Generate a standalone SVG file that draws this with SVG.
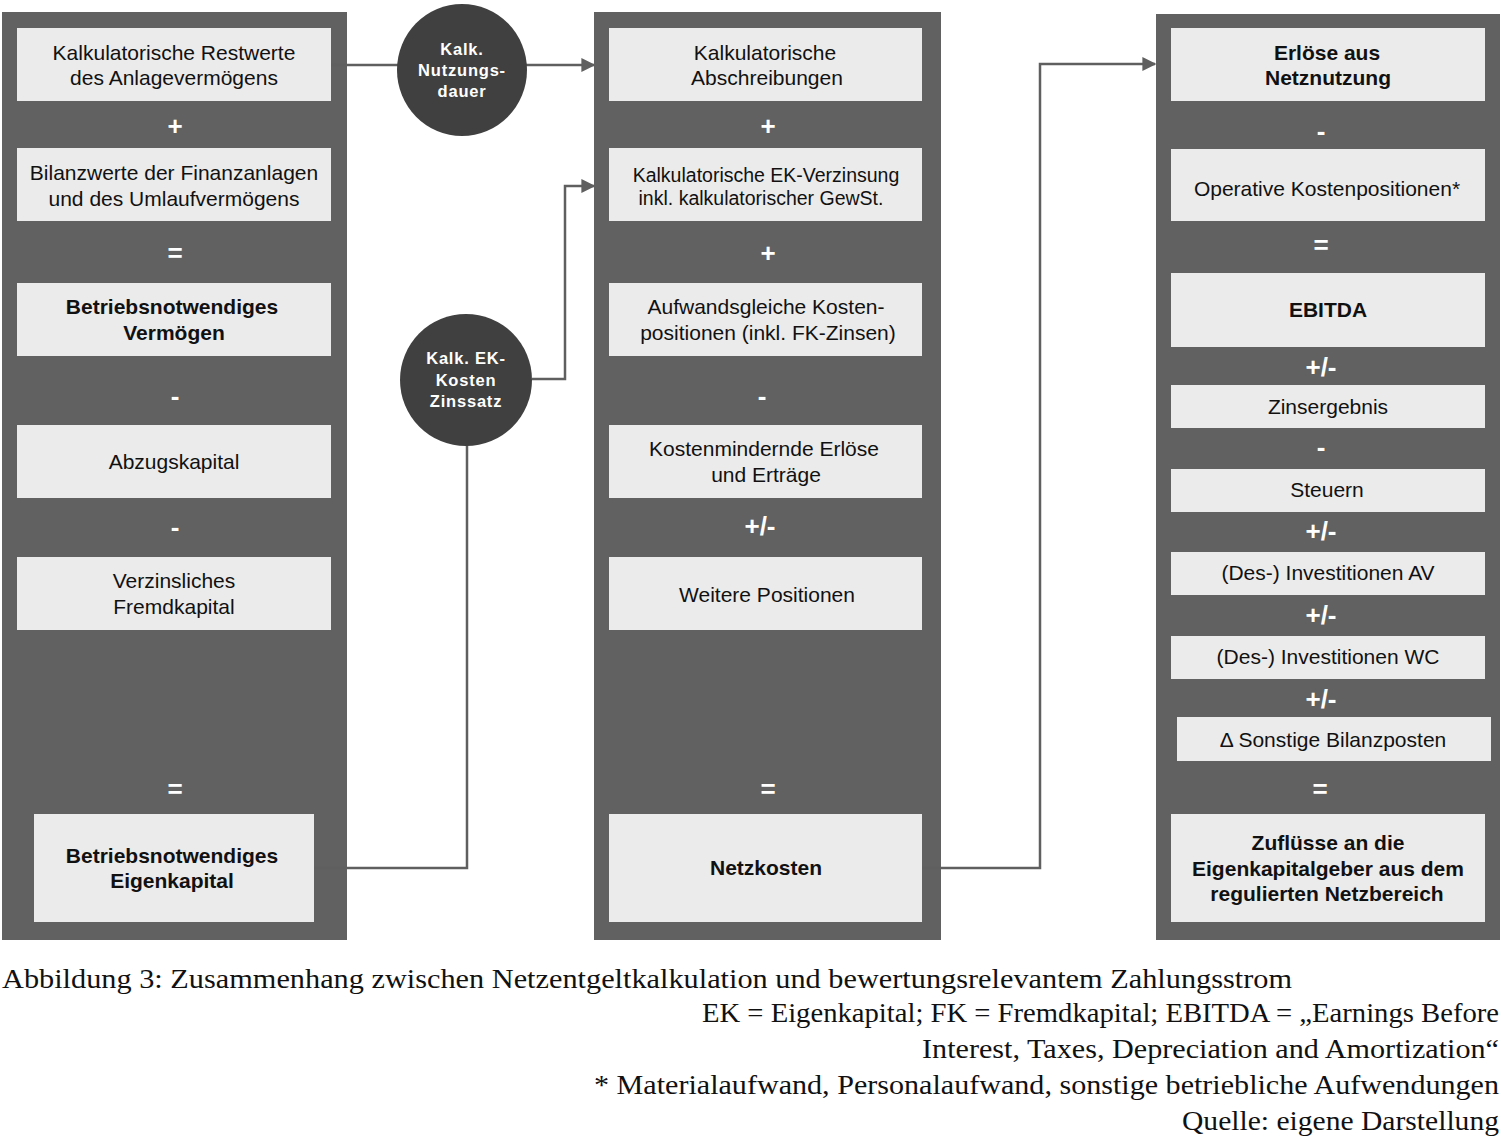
<svg xmlns="http://www.w3.org/2000/svg" width="1501" height="1137" viewBox="0 0 1501 1137">
<defs>
<marker id="ah" viewBox="0 0 10 10" refX="9" refY="5" markerWidth="14" markerHeight="14" markerUnits="userSpaceOnUse" orient="auto"><path d="M0,0 L10,5 L0,10 z" fill="#5f5f5f"/></marker>
<style>
.panel{fill:#616161}
.box{fill:#ebebeb}
.circ{fill:#404040}
.t{font-family:"Liberation Sans",Arial,sans-serif;font-size:21px;fill:#111;text-anchor:middle}
.tb{font-family:"Liberation Sans",Arial,sans-serif;font-size:21px;font-weight:bold;fill:#111;text-anchor:middle}
.ts{font-family:"Liberation Sans",Arial,sans-serif;font-size:19.5px;fill:#111;text-anchor:middle}
.op{font-family:"Liberation Sans",Arial,sans-serif;font-size:26px;font-weight:bold;fill:#fff;text-anchor:middle}
.ct{font-family:"Liberation Sans",Arial,sans-serif;font-size:16.5px;font-weight:bold;fill:#fff;text-anchor:middle;letter-spacing:0.8px}
.cap{font-family:"Liberation Serif","Times New Roman",serif;font-size:28px;fill:#111}
.con{fill:none;stroke:#5f5f5f;stroke-width:2.5}
</style>
</defs>
<rect width="1501" height="1137" fill="#fff"/>
<rect class="panel" x="2" y="12" width="345" height="928"/>
<rect class="panel" x="594" y="12" width="347" height="928"/>
<rect class="panel" x="1156" y="14" width="344" height="926"/>

<g id="connectors">
<polyline class="con" points="331,65 594,65" marker-end="url(#ah)"/>
<polyline class="con" points="314,868 467,868 467,445"/>
<polyline class="con" points="532,379 565,379 565,186 594,186" marker-end="url(#ah)"/>
<polyline class="con" points="922,868 1040,868 1040,64 1155,64" marker-end="url(#ah)"/>
</g>

<g id="circle1"><ellipse class="circ" cx="462" cy="70" rx="65" ry="66"/><text class="ct" x="462" y="55">Kalk.</text><text class="ct" x="462" y="76">Nutzungs-</text><text class="ct" x="462" y="97">dauer</text></g>
<g id="circle2"><ellipse class="circ" cx="466" cy="380" rx="66" ry="66"/><text class="ct" x="466" y="364">Kalk. EK-</text><text class="ct" x="466" y="386">Kosten</text><text class="ct" x="466" y="407">Zinssatz</text></g>

<g id="left">
<g id="l1"><rect class="box" x="17" y="28" width="314" height="73"/><text class="t" x="174" y="60">Kalkulatorische Restwerte</text><text class="t" x="174" y="85">des Anlagevermögens</text></g>
<text class="op" x="175" y="135">+</text>
<g id="l2"><rect class="box" x="17" y="148" width="314" height="73"/><text class="t" x="174" y="180">Bilanzwerte der Finanzanlagen</text><text class="t" x="174" y="206">und des Umlaufvermögens</text></g>
<text class="op" x="175" y="262">=</text>
<g id="l3"><rect class="box" x="17" y="283" width="314" height="73"/><text class="tb" x="172" y="314">Betriebsnotwendiges</text><text class="tb" x="174" y="340">Vermögen</text></g>
<text class="op" x="175" y="405">-</text>
<g id="l4"><rect class="box" x="17" y="425" width="314" height="73"/><text class="t" x="174" y="469">Abzugskapital</text></g>
<text class="op" x="175" y="536">-</text>
<g id="l5"><rect class="box" x="17" y="557" width="314" height="73"/><text class="t" x="174" y="588">Verzinsliches</text><text class="t" x="174" y="614">Fremdkapital</text></g>
<text class="op" x="175" y="798">=</text>
<g id="l6"><rect class="box" x="34" y="814" width="280" height="108"/><text class="tb" x="172" y="863">Betriebsnotwendiges</text><text class="tb" x="172" y="888">Eigenkapital</text></g>
</g>

<g id="middle">
<g id="m1"><rect class="box" x="609" y="28" width="313" height="73"/><text class="t" x="765" y="60">Kalkulatorische</text><text class="t" x="767" y="85">Abschreibungen</text></g>
<text class="op" x="768" y="135">+</text>
<g id="m2"><rect class="box" x="609" y="148" width="313" height="73"/><text class="ts" x="766" y="182">Kalkulatorische EK-Verzinsung</text><text class="ts" x="761" y="205">inkl. kalkulatorischer GewSt.</text></g>
<text class="op" x="768" y="262">+</text>
<g id="m3"><rect class="box" x="609" y="283" width="313" height="73"/><text class="t" x="766" y="314">Aufwandsgleiche Kosten-</text><text class="t" x="768" y="340">positionen (inkl. FK-Zinsen)</text></g>
<text class="op" x="762" y="405">-</text>
<g id="m4"><rect class="box" x="609" y="425" width="313" height="73"/><text class="t" x="764" y="456">Kostenmindernde Erlöse</text><text class="t" x="766" y="482">und Erträge</text></g>
<text class="op" x="760" y="535">+/-</text>
<g id="m5"><rect class="box" x="609" y="557" width="313" height="73"/><text class="t" x="767" y="602">Weitere Positionen</text></g>
<text class="op" x="768" y="798">=</text>
<g id="m6"><rect class="box" x="609" y="814" width="313" height="108"/><text class="tb" x="766" y="875">Netzkosten</text></g>
</g>

<g id="right">
<g id="r1"><rect class="box" x="1171" y="28" width="314" height="73"/><text class="tb" x="1327" y="60">Erlöse aus</text><text class="tb" x="1328" y="85">Netznutzung</text></g>
<text class="op" x="1321" y="140">-</text>
<g id="r2"><rect class="box" x="1171" y="149" width="314" height="72"/><text class="t" x="1327" y="196">Operative Kostenpositionen*</text></g>
<text class="op" x="1321" y="254">=</text>
<g id="r3"><rect class="box" x="1171" y="273" width="314" height="74"/><text class="tb" x="1328" y="317">EBITDA</text></g>
<text class="op" x="1321" y="376">+/-</text>
<g id="r4"><rect class="box" x="1171" y="385" width="314" height="43"/><text class="t" x="1328" y="414">Zinsergebnis</text></g>
<text class="op" x="1321" y="456">-</text>
<g id="r5"><rect class="box" x="1171" y="469" width="314" height="43"/><text class="t" x="1327" y="497">Steuern</text></g>
<text class="op" x="1321" y="540">+/-</text>
<g id="r6"><rect class="box" x="1171" y="552" width="314" height="43"/><text class="t" x="1328" y="580">(Des-) Investitionen AV</text></g>
<text class="op" x="1321" y="624">+/-</text>
<g id="r7"><rect class="box" x="1171" y="636" width="314" height="43"/><text class="t" x="1328" y="664">(Des-) Investitionen WC</text></g>
<text class="op" x="1321" y="708">+/-</text>
<g id="r8"><rect class="box" x="1177" y="717" width="314" height="44"/><text class="t" x="1333" y="747">Δ Sonstige Bilanzposten</text></g>
<text class="op" x="1320" y="798">=</text>
<g id="r9"><rect class="box" x="1171" y="814" width="314" height="108"/><text class="tb" x="1328" y="850">Zuflüsse an die</text><text class="tb" x="1328" y="876">Eigenkapitalgeber aus dem</text><text class="tb" x="1327" y="901">regulierten Netzbereich</text></g>
</g>

<g id="caption">
<text class="cap" x="2" y="988" textLength="1290" lengthAdjust="spacingAndGlyphs">Abbildung 3: Zusammenhang zwischen Netzentgeltkalkulation und bewertungsrelevantem Zahlungsstrom</text>
<text class="cap" x="702" y="1022" textLength="797" lengthAdjust="spacingAndGlyphs">EK = Eigenkapital; FK = Fremdkapital; EBITDA = „Earnings Before</text>
<text class="cap" x="922" y="1058" textLength="577" lengthAdjust="spacingAndGlyphs">Interest, Taxes, Depreciation and Amortization“</text>
<text class="cap" x="594" y="1094" textLength="905" lengthAdjust="spacingAndGlyphs">* Materialaufwand, Personalaufwand, sonstige betriebliche Aufwendungen</text>
<text class="cap" x="1182" y="1130" textLength="317" lengthAdjust="spacingAndGlyphs">Quelle: eigene Darstellung</text>
</g>
</svg>
